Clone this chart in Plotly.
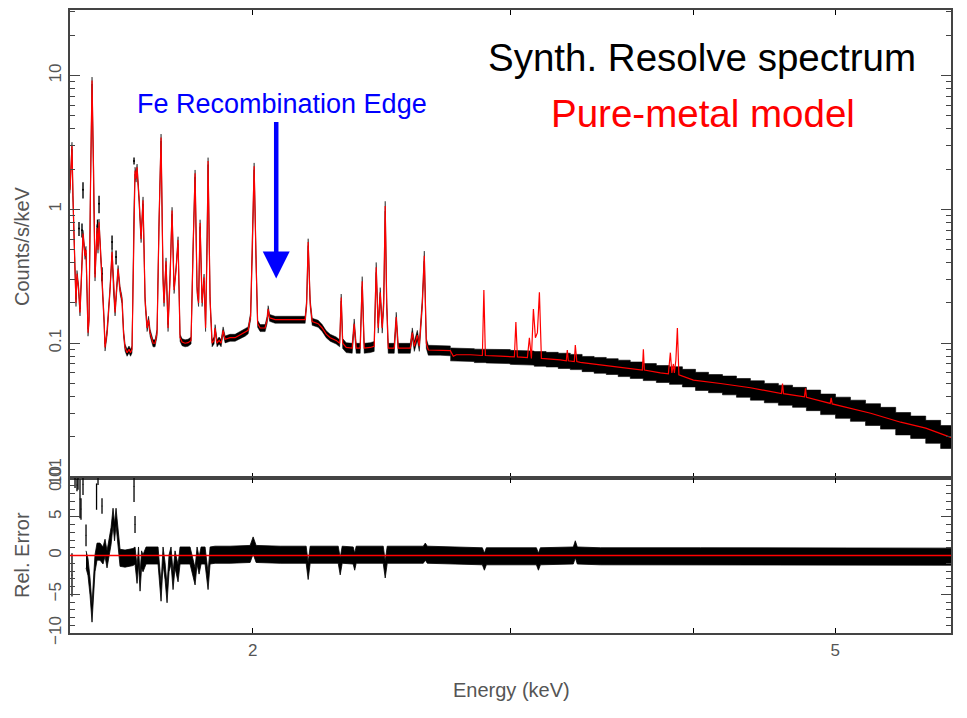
import numpy as np
import plotly.graph_objects as go

# ---------------- Top panel: model curve (red) ----------------
model_energy = [
    1.500, 1.5024, 1.5047, 1.5071, 1.5095, 1.5119, 1.5142, 1.5166, 1.5202, 1.5238,
    1.5286, 1.5310, 1.5359, 1.5383, 1.5431, 1.5456, 1.5492, 1.5529, 1.5566, 1.5602,
    1.5652, 1.5676, 1.5701, 1.5750, 1.5775, 1.5825, 1.5850, 1.5900, 1.5925, 1.5976,
    1.6026, 1.6064, 1.6102, 1.6178, 1.6229, 1.6280, 1.6319, 1.6357, 1.6409, 1.6460,
    1.6499, 1.6538, 1.6564, 1.6590, 1.6616, 1.6643, 1.6669, 1.6722, 1.6775, 1.6827,
    1.6881, 1.6934, 1.6974, 1.7014, 1.7094, 1.7148, 1.7202, 1.7256, 1.7311, 1.7365,
    1.7392, 1.7447, 1.7502, 1.7558, 1.7613, 1.7669, 1.7724, 1.7780, 1.7836, 1.7893,
    1.7977, 1.8062, 1.8148, 1.8205, 1.8263, 1.8320, 1.8364, 1.8407, 1.8465, 1.8523,
    1.8567, 1.8611, 1.8640, 1.8699, 1.8758, 1.8817, 1.8847, 1.8906, 1.8966, 1.9026,
    1.9086, 1.9146, 1.9297, 1.9450, 1.9604, 1.9759, 1.9853, 1.9931, 1.9994, 2.0041,
    2.0104, 2.0152, 2.0231, 2.0391, 2.0456, 2.0488, 2.0536, 2.0715, 2.1044, 2.1547,
    2.1717, 2.1768, 2.1820, 2.1889, 2.1958, 2.2166, 2.2307, 2.2448, 2.2590, 2.2804,
    2.2930, 2.2984, 2.3038, 2.3165, 2.3385, 2.3459, 2.3533, 2.3681, 2.3756, 2.3831,
    2.4057, 2.4209, 2.4285, 2.4362, 2.4439, 2.4516, 2.4574, 2.4632, 2.4690, 2.4749,
    2.4984, 2.5063, 2.5142, 2.5624, 2.5705, 2.5786, 2.5908, 2.5990, 2.6113, 2.6195,
    2.6278, 2.6360, 2.6863, 2.7290, 2.7419, 2.7549, 2.8164, 2.8701, 2.8769, 2.8837,
    2.9525, 3.0184, 3.0255, 3.0327, 3.0808, 3.0905, 3.1003, 3.1101, 3.1199, 3.1297,
    3.1396, 3.1495, 3.2445, 3.2754, 3.2805, 3.2857, 3.3169, 3.3221, 3.3300, 3.3484,
    3.4555, 3.5661, 3.6802, 3.6918, 3.6976, 3.7034, 3.7979, 3.8460, 3.8581, 3.8672,
    3.8764, 3.8825, 3.8917, 3.9009, 3.9101, 4.0006, 4.1744, 4.3764, 4.5953, 4.6026,
    4.6098, 4.7644, 4.7719, 4.7794, 4.9613, 4.9691, 4.9770, 5.2877, 5.5435, 5.7661,
    5.9977, 6.0071,
]
model_counts = [
    1.4, 2.2, 3.0, 1.2, 0.5, 0.35, 0.2, 0.33, 0.26, 0.17,
    0.4, 0.66, 0.45, 0.5, 0.12, 0.15, 1.5, 9.2, 2.0, 0.31,
    0.73, 0.5, 0.8, 0.45, 0.3, 0.15, 0.093, 0.12, 0.15, 0.25,
    0.48, 0.25, 0.17, 0.36, 0.25, 0.21, 0.12, 0.093, 0.085, 0.09,
    0.085, 0.09, 0.3, 1.2, 1.95, 1.7, 2.06, 1.2, 0.6, 1.17,
    0.21, 0.13, 0.15, 0.12, 0.1, 0.1, 0.12, 0.8, 3.45, 0.3,
    0.2, 0.41, 0.13, 0.3, 0.98, 0.25, 0.35, 0.59, 0.11, 0.102,
    0.1, 0.101, 0.105, 0.5, 1.86, 0.25, 0.2, 0.79, 0.2, 0.31,
    0.13, 0.5, 2.3, 0.21, 0.1, 0.105, 0.13, 0.1, 0.105, 0.1,
    0.125, 0.107, 0.11, 0.11, 0.115, 0.12, 0.125, 0.16, 0.6, 2.1,
    0.4, 0.14, 0.13, 0.13, 0.15, 0.18, 0.155, 0.15, 0.15, 0.15,
    0.15, 0.2, 0.57, 0.2, 0.145, 0.14, 0.13, 0.117, 0.11, 0.105,
    0.1, 0.22, 0.1, 0.093, 0.092, 0.14, 0.092, 0.092, 0.29, 0.092,
    0.093, 0.095, 0.37, 0.13, 0.24, 0.13, 0.2, 1.06, 0.2, 0.092,
    0.092, 0.157, 0.092, 0.092, 0.12, 0.095, 0.115, 0.095, 0.2, 0.45,
    0.1, 0.089, 0.089, 0.088, 0.08, 0.082, 0.082, 0.081, 0.25, 0.081,
    0.08, 0.079, 0.144, 0.079, 0.078, 0.11, 0.077, 0.18, 0.11, 0.12,
    0.24, 0.077, 0.075, 0.074, 0.089, 0.074, 0.073, 0.097, 0.073, 0.072,
    0.069, 0.066, 0.063, 0.063, 0.09, 0.063, 0.06, 0.059, 0.085, 0.06,
    0.07, 0.06, 0.075, 0.13, 0.058, 0.053, 0.05, 0.0465, 0.042, 0.05,
    0.042, 0.0397, 0.046, 0.0395, 0.0355, 0.039, 0.0352, 0.030, 0.0257, 0.0232,
    0.0198, 0.0197,
]

# ---------------- Top panel: data (black) ----------------
# fine-binned part: data sits on the model, with fractional 1-sigma errors per energy zone
fine_zone_edges = [1.5, 2.3, 2.73]
fine_zone_frac_err = [0.06, 0.085]

# coarse-binned part (stepped blocks)
bin_edges = [2.729, 2.781, 2.834, 2.887, 2.942, 2.999, 3.056, 3.114, 3.173, 3.234,
             3.296, 3.358, 3.422, 3.488, 3.554, 3.622, 3.697, 3.774, 3.853, 3.932,
             4.014, 4.097, 4.188, 4.281, 4.376, 4.473, 4.573, 4.676, 4.779, 4.887,
             5.003, 5.122, 5.245, 5.370, 5.500, 5.631, 5.766, 5.903, 6.042]
bin_counts = [0.083, 0.082, 0.081, 0.0805, 0.080, 0.079, 0.078, 0.077, 0.076, 0.0745,
              0.073, 0.0705, 0.069, 0.0675, 0.0655, 0.0635, 0.0615, 0.0595, 0.058, 0.0555,
              0.0525, 0.0505, 0.049, 0.047, 0.045, 0.043, 0.0415, 0.040, 0.038, 0.0355,
              0.0335, 0.0318, 0.0298, 0.028, 0.0255, 0.024, 0.0222, 0.0203]
bin_frac_err = [0.11, 0.11, 0.115, 0.115, 0.12, 0.12, 0.12, 0.125, 0.125, 0.13,
                0.13, 0.13, 0.135, 0.135, 0.14, 0.14, 0.145, 0.145, 0.15, 0.15,
                0.155, 0.155, 0.16, 0.16, 0.165, 0.165, 0.17, 0.17, 0.175, 0.175,
                0.18, 0.18, 0.185, 0.185, 0.19, 0.19, 0.195, 0.195]

# stray data points off the model at low energy
stray_energy = [1.5214, 1.5286, 1.5310, 1.5664, 1.5701, 1.5775, 1.6026, 1.6127, 1.6590]
stray_counts = [0.72, 0.70, 1.4, 0.75, 1.1, 0.33, 0.57, 0.44, 2.3]
stray_frac_err = [0.12, 0.12, 0.14, 0.12, 0.15, 0.12, 0.12, 0.12, 0.06]

# ---------------- Bottom panel: relative error ----------------
res_energy = [
    1.5383, 1.5431, 1.5480, 1.5529, 1.5566, 1.5602, 1.5652, 1.5726, 1.5800, 1.5850,
    1.5900, 1.5951, 1.6001, 1.6051, 1.6089, 1.6127, 1.6178, 1.6229, 1.6357, 1.6486,
    1.6564, 1.6616, 1.6669, 1.6708, 1.6748, 1.6788, 1.6827, 1.6907, 1.7014, 1.7148,
    1.7229, 1.7311, 1.7365, 1.7420, 1.7475, 1.7530, 1.7585, 1.7641, 1.7696, 1.7780,
    1.7836, 1.7977, 1.8119, 1.8263, 1.8320, 1.8378, 1.8436, 1.8552, 1.8640, 1.8699,
    1.8847, 1.9297, 1.9915, 2.0010, 2.0104, 2.0879, 2.1751, 2.1820, 2.1889, 2.2876,
    2.2948, 2.3020, 2.3422, 2.3477, 2.3533, 2.4555, 2.4632, 2.4710, 2.6154, 2.6236,
    2.6319, 2.8701, 2.8792, 2.8882, 3.1248, 3.1347, 3.1445, 3.3117, 3.3221, 3.3326,
    3.4555, 4.0450, 4.7345, 6.0071,
]
res_value = [
    -0.5, -1.5, -4.0, -7.5, -4.0, -1.0, 0.5, 0.5, 0.0, 1.0,
    -0.5, 0.8, 2.5, 5.0, 3.0, 5.0, 2.0, -0.3, -0.4, -0.3,
    -0.2, 0.0, -2.5, 0.0, -3.5, -0.5, -1.0, 0.0, 0.0, 0.0,
    0.0, -4.8, 0.0, -2.0, -5.0, -1.0, 0.0, -3.3, -0.5, -2.3,
    0.0, 0.0, 0.0, -2.7, 0.0, -1.3, 0.0, 0.0, -3.3, 0.0,
    0.1, 0.1, 0.2, 1.3, 0.2, 0.1, 0.1, -2.0, 0.1, 0.1,
    -1.4, 0.1, 0.0, -0.8, 0.1, 0.1, -1.8, 0.1, 0.1, 0.5,
    0.1, -0.1, -0.8, -0.1, -0.1, -0.8, -0.1, 0.0, 0.8, 0.0,
    -0.1, -0.1, -0.15, -0.15,
]
res_err = 1.1

# isolated large residuals (centre and half-length of each error bar)
res_bar_energy = [1.5047, 1.5119, 1.5166, 1.5190, 1.5238, 1.5262, 1.5310, 1.5383,
                  1.5640, 1.5676, 1.5775, 1.6590, 1.6616]
res_bar_value = [-2.5, 10.5, 9.1, 10.4, 7.3, 6.0, 9.2, 2.6, 7.6, 10.3, 6.4, 8.9, 4.0]
res_bar_half = [2.8, 1.8, 0.8, 1.9, 2.5, 1.4, 1.4, 1.4, 1.7, 1.2, 1.0, 2.0, 1.1]

# ---------------- build traces ----------------
fig = go.Figure()

me = np.array(model_energy)
mc = np.array(model_counts)
fine_mask = me <= fine_zone_edges[-1]
fe = me[fine_mask]
fc = mc[fine_mask]
zone_idx = np.clip(np.searchsorted(fine_zone_edges, fe, side="right") - 1, 0, len(fine_zone_frac_err) - 1)
ff = np.array(fine_zone_frac_err)[zone_idx]
upper = fc * (1 + ff)
lower = fc * (1 - ff)
fig.add_trace(go.Scatter(
    x=np.concatenate([fe, fe[::-1]]), y=np.concatenate([upper, lower[::-1]]),
    fill="toself", fillcolor="black", mode="lines", line=dict(color="black", width=0.5),
    xaxis="x", yaxis="y", hoverinfo="skip", showlegend=False))

# stepped blocks
bx, bu, bl = [], [], []
for i, c in enumerate(bin_counts):
    bx += [bin_edges[i], bin_edges[i + 1]]
    bu += [c * (1 + bin_frac_err[i])] * 2
    bl += [c * (1 - bin_frac_err[i])] * 2
fig.add_trace(go.Scatter(
    x=bx + bx[::-1], y=bu + bl[::-1],
    fill="toself", fillcolor="black", mode="lines", line=dict(color="black", width=0.6),
    xaxis="x", yaxis="y", hoverinfo="skip", showlegend=False))

sc = np.array(stray_counts)
fig.add_trace(go.Scatter(
    x=stray_energy, y=stray_counts, mode="markers",
    marker=dict(size=2, color="black"),
    error_y=dict(type="data", array=sc * np.array(stray_frac_err), color="black", thickness=1.4, width=0),
    xaxis="x", yaxis="y", hoverinfo="skip", showlegend=False))

fig.add_trace(go.Scatter(
    x=model_energy, y=model_counts, mode="lines", line=dict(color="#ff0000", width=1.2),
    xaxis="x", yaxis="y", hoverinfo="skip", showlegend=False))

# residual band
rv = np.array(res_value)
re = np.array(res_energy)
fig.add_trace(go.Scatter(
    x=np.concatenate([re, re[::-1]]), y=np.concatenate([rv + res_err, (rv - res_err)[::-1]]),
    fill="toself", fillcolor="black", mode="lines", line=dict(color="black", width=0.8),
    xaxis="x2", yaxis="y2", hoverinfo="skip", showlegend=False))

fig.add_trace(go.Scatter(
    x=res_bar_energy, y=res_bar_value, mode="markers",
    marker=dict(size=1, color="black"),
    error_y=dict(type="data", array=res_bar_half, color="black", thickness=1.3, width=0),
    xaxis="x2", yaxis="y2", hoverinfo="skip", showlegend=False))

# ---------------- layout ----------------
FONT = "Liberation Sans, Arial, sans-serif"
axis_col = "#444444"
lab_col = "#555555"
split = 155 / 623
xr = [np.log10(1.5), np.log10(6.0)]

common_x = dict(type="log", range=xr, showgrid=False, zeroline=False,
                showline=True, linecolor=axis_col, linewidth=1.5, mirror="allticks",
                ticks="inside", ticklen=5, tickwidth=1.3, tickcolor="black",
                tickvals=[2, 3, 4, 5], automargin=False)

fig.update_layout(
    width=967, height=718,
    margin=dict(l=62, r=24, t=2, b=93, autoexpand=False),
    paper_bgcolor="white", plot_bgcolor="white",
    font=dict(family=FONT, color=axis_col),
    xaxis=dict(**common_x, anchor="y", showticklabels=False),
    xaxis2=dict(**common_x, anchor="y2", ticktext=["2", "", "", "5"],
                tickfont=dict(size=17, color=lab_col), ticklabelstandoff=1),
    yaxis=dict(type="log", domain=[split, 1], range=[-2.007, 1.49], anchor="x",
               showgrid=False, zeroline=False, showline=True, linecolor=axis_col, linewidth=1.5,
               mirror="allticks", ticks="inside", ticklen=10, tickwidth=1.2, tickcolor=axis_col,
               tickvals=[0.01, 0.1, 1, 10], ticktext=["0.01", "0.1", "1", "10"],
               tickangle=-90, tickfont=dict(size=17, color=lab_col), ticklabelstandoff=0,
               automargin=False,
               minor=dict(ticks="inside", ticklen=5, tickwidth=1.2, tickcolor=axis_col,
                          tickvals=[0.02, 0.03, 0.04, 0.05, 0.06, 0.07, 0.08, 0.09,
                                    0.2, 0.3, 0.4, 0.5, 0.6, 0.7, 0.8, 0.9,
                                    2, 3, 4, 5, 6, 7, 8, 9, 20, 30])),
    yaxis2=dict(domain=[0, split], range=[-10, 10], anchor="x2",
                showgrid=False, zeroline=False, showline=True, linecolor=axis_col, linewidth=1.5,
                mirror="allticks", ticks="inside", ticklen=10, tickwidth=1.2, tickcolor=axis_col,
                tickvals=[-10, -5, 0, 5, 10], ticktext=["\u221210", "\u22125", "0", "5", "10"],
                tickangle=-90, tickfont=dict(size=17, color=lab_col), ticklabelstandoff=0,
                automargin=False,
                minor=dict(ticks="inside", ticklen=5, tickwidth=1.2, tickcolor=axis_col, dtick=1)),
    shapes=[dict(type="line", xref="x2 domain", x0=0, x1=1, yref="y2", y0=0, y1=0,
                 line=dict(color="#ff0000", width=1.3), layer="above")],
)


def px_x(p):
    return (p - 70) / 881


def px_y(p):
    return (633 - p) / 623


def label(text, x, y, size, color, angle=0):
    fig.add_annotation(xref="paper", yref="paper", x=px_x(x), y=px_y(y), text=text,
                       showarrow=False, xanchor="center", yanchor="middle", textangle=angle,
                       font=dict(size=size, color=color, family=FONT))


label("Energy (keV)", 511, 690, 20, lab_col)
label("Counts/s/keV", 22, 246, 20, lab_col, -90)
label("Rel. Error", 22, 555, 20, lab_col, -90)
label("Synth. Resolve spectrum", 702, 58, 38.5, "black")
label("Pure-metal model", 703, 114, 38.5, "#ff0000")
label("Fe Recombination Edge", 282, 104, 27, "#0000ff")

fig.add_annotation(xref="x", yref="y", x=np.log10(2.075), y=np.log10(0.305),
                   ax=0, ay=-158, text="", showarrow=True, arrowhead=2,
                   arrowsize=1.2, arrowwidth=4.5, arrowcolor="#0000ff", standoff=0)

fig.write_html("out.html")
